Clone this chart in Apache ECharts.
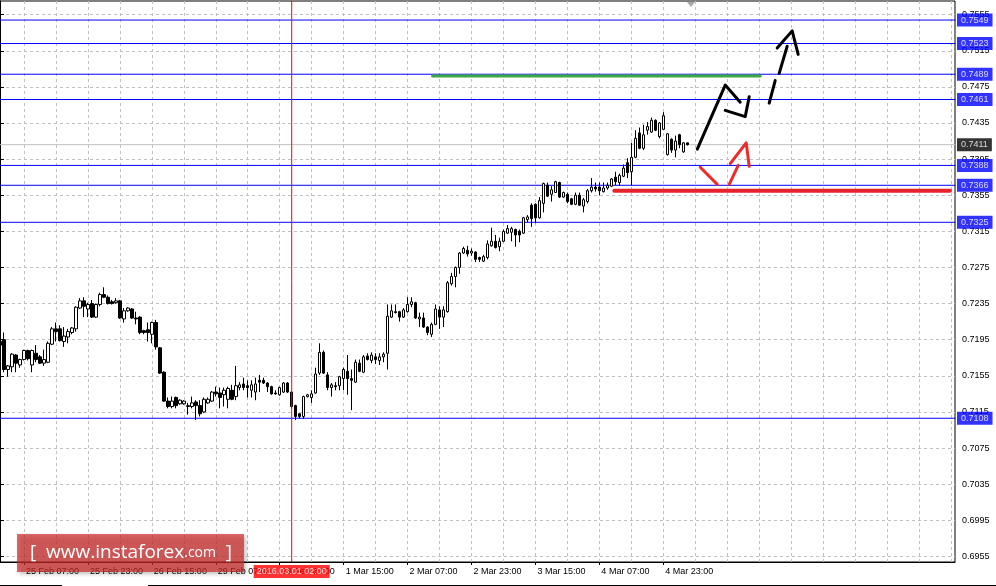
<!DOCTYPE html>
<html><head><meta charset="utf-8">
<script src="https://cdn.jsdelivr.net/npm/echarts@6.0.0/dist/echarts.min.js"></script>
<style>html,body{margin:0;padding:0;background:#fff}#c{width:996px;height:586px}</style>
</head><body><div id="c"></div>
<script>
// ---- data (H1 bars) ----
const tradingDays = ['25 Feb','26 Feb','29 Feb','1 Mar','2 Mar','3 Mar','4 Mar','7 Mar','8 Mar','9 Mar','10 Mar'];
const barOpen = [
.7193,.7195,.7162,.7165,.7178,.7167,.7173,.7183,.7167,.7180,
.7176,.7169,.7170,.7190,.7207,.7207,.7193,.7198,.7203,.7207,
.7230,.7238,.7229,.7235,.7220,.7234,.7245,.7242,.7237,.7236,
.7238,.7218,.7227,.7229,.7219,.7220,.7205,.7206,.7201,.7214,
.7186,.7159,.7127,.7121,.7131,.7124,.7124,.7121,.7121,.7126,
.7122,.7115,.7125,.7127,.7137,.7136,.7134,.7129,.7139,.7132,
.7142,.7146,.7144,.7139,.7137,.7150,.7150,.7147,.7143,.7136,
.7134,.7137,.7147,.7137,.7122,.7113,.7110,.7132,.7131,.7136,
.7158,.7181,.7156,.7142,.7144,.7144,.7152,.7160,.7152,.7148,
.7169,.7159,.7177,.7172,.7176,.7172,.7176,.7180,.7220,.7226,
.7226,.7220,.7226,.7234,.7236,.7218,.7219,.7209,.7201,.7212,
.7228,.7220,.7226,.7257,.7265,.7275,.7291,.7294,.7291,.7292,
.7286,.7282,.7286,.7299,.7304,.7298,.7304,.7313,.7314,.7317,
.7315,.7313,.7328,.7344,.7345,.7330,.7346,.7366,.7356,.7358,
.7369,.7353,.7356,.7351,.7345,.7355,.7343,.7348,.7360,.7364,
.7364,.7359,.7363,.7365,.7375,.7369,.7376,.7391,.7381,.7397,
.7424,.7407,.7427,.7425,.7438,.7420,.7428,.7400,.7417,.7405,
.7422,.7403,.7413];
const barClose = [
.7189,.7162,.7166,.7179,.7169,.7173,.7183,.7174,.7183,.7173,
.7169,.7173,.7191,.7207,.7204,.7194,.7199,.7204,.7208,.7231,
.7238,.7232,.7234,.7220,.7234,.7245,.7242,.7235,.7235,.7238,
.7219,.7227,.7230,.7219,.7218,.7203,.7203,.7203,.7214,.7187,
.7158,.7127,.7121,.7127,.7122,.7128,.7127,.7122,.7125,.7122,
.7113,.7129,.7129,.7137,.7135,.7131,.7139,.7141,.7129,.7144,
.7145,.7142,.7142,.7145,.7146,.7148,.7147,.7143,.7135,.7135,
.7142,.7147,.7137,.7121,.7110,.7110,.7132,.7134,.7135,.7157,
.7181,.7158,.7142,.7145,.7143,.7154,.7162,.7152,.7150,.7170,
.7160,.7176,.7173,.7178,.7173,.7176,.7179,.7221,.7227,.7225,
.7220,.7228,.7234,.7237,.7219,.7220,.7209,.7203,.7212,.7229,
.7220,.7228,.7258,.7265,.7275,.7291,.7296,.7290,.7293,.7284,
.7284,.7287,.7301,.7304,.7297,.7304,.7315,.7318,.7318,.7311,
.7311,.7330,.7331,.7329,.7330,.7349,.7368,.7354,.7361,.7370,
.7353,.7358,.7348,.7345,.7355,.7344,.7350,.7360,.7364,.7362,
.7360,.7363,.7366,.7373,.7370,.7377,.7385,.7380,.7397,.7418,
.7407,.7422,.7431,.7438,.7427,.7435,.7443,.7423,.7405,.7415,
.7411,.7413,.7411];
const barLow = [
.7186,.7159,.7154,.7159,.7159,.7164,.7172,.7172,.7159,.7170,
.7168,.7166,.7169,.7189,.7193,.7193,.7187,.7191,.7201,.7204,
.7229,.7220,.7220,.7219,.7219,.7232,.7241,.7234,.7234,.7235,
.7218,.7214,.7226,.7218,.7212,.7201,.7201,.7193,.7191,.7184,
.7157,.7126,.7119,.7119,.7119,.7123,.7123,.7112,.7119,.7106,
.7110,.7114,.7124,.7126,.7132,.7119,.7121,.7119,.7128,.7128,
.7139,.7139,.7131,.7131,.7128,.7137,.7146,.7137,.7134,.7134,
.7133,.7136,.7136,.7119,.7106,.7108,.7107,.7131,.7125,.7135,
.7156,.7157,.7139,.7132,.7139,.7139,.7139,.7134,.7117,.7147,
.7159,.7158,.7172,.7169,.7168,.7167,.7170,.7162,.7219,.7224,
.7215,.7219,.7225,.7231,.7218,.7209,.7208,.7200,.7198,.7211,
.7207,.7209,.7225,.7255,.7253,.7268,.7290,.7287,.7288,.7281,
.7281,.7281,.7284,.7298,.7296,.7293,.7303,.7312,.7304,.7298,
.7303,.7312,.7325,.7320,.7324,.7329,.7336,.7353,.7348,.7358,
.7352,.7352,.7346,.7344,.7344,.7343,.7336,.7346,.7358,.7359,
.7355,.7358,.7361,.7364,.7366,.7366,.7375,.7374,.7366,.7396,
.7406,.7405,.7422,.7424,.7426,.7418,.7427,.7399,.7402,.7397,
.7407,.7402,.7410];
const barHigh = [
.7195,.7203,.7167,.7180,.7179,.7174,.7184,.7184,.7184,.7189,
.7178,.7184,.7193,.7209,.7214,.7211,.7209,.7207,.7209,.7232,
.7241,.7242,.7236,.7239,.7235,.7247,.7253,.7244,.7239,.7241,
.7239,.7230,.7231,.7230,.7226,.7221,.7206,.7214,.7215,.7217,
.7187,.7160,.7131,.7132,.7132,.7129,.7128,.7125,.7132,.7128,
.7128,.7131,.7131,.7138,.7143,.7142,.7142,.7143,.7145,.7166,
.7148,.7153,.7150,.7150,.7153,.7156,.7153,.7148,.7144,.7139,
.7143,.7148,.7148,.7138,.7123,.7114,.7133,.7135,.7139,.7164,
.7191,.7183,.7159,.7147,.7148,.7155,.7164,.7178,.7162,.7173,
.7173,.7178,.7180,.7181,.7180,.7180,.7181,.7234,.7234,.7234,
.7227,.7230,.7242,.7242,.7237,.7225,.7225,.7210,.7214,.7234,
.7232,.7232,.7260,.7269,.7276,.7292,.7298,.7299,.7296,.7293,
.7287,.7289,.7305,.7319,.7311,.7308,.7317,.7322,.7320,.7318,
.7317,.7331,.7333,.7346,.7346,.7353,.7369,.7369,.7365,.7371,
.7370,.7359,.7358,.7352,.7358,.7358,.7352,.7362,.7374,.7369,
.7369,.7369,.7369,.7374,.7381,.7379,.7389,.7396,.7413,.7427,
.7430,.7433,.7436,.7441,.7439,.7436,.7447,.7424,.7418,.7421,
.7423,.7414,.7413];
const yTicks = [0.6955,0.6995,0.7035,0.7075,0.7115,0.7155,0.7195,0.7235,0.7275,0.7315,0.7355,0.7395,0.7435,0.7475,0.7515,0.7555];
const levels = [0.7549,0.7523,0.7489,0.7461,0.7388,0.7366,0.7325,0.7108];
const currentPrice = 0.7411;
const markedBar = 73;                       // 1 Mar 02:00
const markedTimeLabel = '2016.03.01 02:00';
// drawn annotations: [bar position, price]
const greenLevel = [[108.25,0.7487],[190.25,0.7487]];
const redLevel = [[153.75,0.7360],[237.75,0.7360]];
const blackStrokes = [
  [[174.5,0.7406],[181.5,0.7477],[185.25,0.7458]],
  [[181.5,0.7449],[186.5,0.7442],[187.5,0.7464]],
  [[192.5,0.7457],[194,0.7482]],
  [[195,0.7490],[197,0.7520]],
  [[194.5,0.7518],[198.25,0.7537],[199.75,0.7511]]
];
const redStrokes = [
  [[175.25,0.7386],[179.5,0.7367]],
  [[182.5,0.7367],[184.75,0.7388]],
  [[182.75,0.7390],[186.75,0.7413],[187.5,0.7387]]
];

// ---- categories: hourly bars, weekend skipped ----
const categories = [];
for (const d of tradingDays) for (let h = 0; h < 24; h++) categories.push(d + ' ' + String(h).padStart(2,'0') + ':00');
categories.splice(0, 1);           // first bar: 25 Feb 01:00
categories.length = 240;
const lastIdx = categories.length - 1;
const nBars = barOpen.length;
const isLabel = (i) => i >= 6 && (i - 6) % 16 === 0 && i < nBars;
const yMin = 0.69488, yMax = 0.75701;

const candles = barOpen.map((o, i) => [o, barClose[i], barLow[i], barHigh[i]]);
const font = 'Liberation Sans, Arial, sans-serif';

const series = [{
  type: 'candlestick', xAxisIndex: 0, yAxisIndex: 0, data: candles, barWidth: 3, z: 3,
  itemStyle: {color: '#fff', color0: '#000', borderColor: '#000', borderColor0: '#000', borderColorDoji: '#000', borderWidth: 1}
}];
const addStroke = (pts, color, width, z) => series.push({
  type: 'line', xAxisIndex: 1, yAxisIndex: 0, data: pts, symbol: 'none', silent: true, z: z,
  lineStyle: {color: color, width: width, cap: 'round', join: 'round'}
});
// horizontal levels and current price line
levels.forEach(v => addStroke([[0, v], [lastIdx, v]], '#0000ff', 1, 2));
addStroke([[0, currentPrice], [lastIdx, currentPrice]], '#c0c0c0', 1, 2);
// vertical time marker
addStroke([[markedBar, yMin], [markedBar, yMax]], '#ff0000', 1, 4);
// drawings
addStroke(greenLevel, '#3aa845', 3, 5);
addStroke(redLevel, '#e8222a', 4, 5);
blackStrokes.forEach(s => addStroke(s, '#000', 3, 5));
redStrokes.forEach(s => addStroke(s, '#ee2a2a', 3, 5));

// price boxes on the right and time box at the bottom
const boxStyle = {fontFamily: font, fontSize: 9, lineHeight: 10, color: '#fff', padding: [2, 4, 1, 4]};
series.push({
  type: 'scatter', xAxisIndex: 1, yAxisIndex: 0, symbolSize: 0, silent: true, z: 10, clip: false,
  data: levels.map(v => ({value: [lastIdx, v], label: Object.assign({show: true, position: 'right', distance: 2, formatter: v.toFixed(4), backgroundColor: '#0000ff'}, boxStyle)}))
    .concat([
      {value: [lastIdx, currentPrice], label: Object.assign({show: true, position: 'right', distance: 2, formatter: currentPrice.toFixed(4), backgroundColor: '#000'}, boxStyle)},
      {value: [markedBar, yMin], label: Object.assign({show: true, position: 'bottom', distance: 3, formatter: markedTimeLabel, backgroundColor: '#ff0000'}, boxStyle, {padding: [2, 3, 1, 3]})}
    ])
});

const chart = echarts.init(document.getElementById('c'), null, {renderer: 'canvas'});
chart.setOption({
  animation: false,
  backgroundColor: '#fff',
  grid: {left: -1, top: 1, width: 956, height: 561, show: true, borderColor: '#000', borderWidth: 1, containLabel: false},
  xAxis: [{
    type: 'category', data: categories, boundaryGap: false,
    axisLine: {show: true, lineStyle: {color: '#000'}},
    axisTick: {show: true, length: 3, interval: (i) => isLabel(i), lineStyle: {color: '#000'}},
    axisLabel: {interval: (i) => isLabel(i), align: 'left', margin: 5, padding: [0, 0, 0, 2], fontFamily: font, fontSize: 9, color: '#000'},
    splitLine: {show: true, interval: (i) => i >= 6 && (i - 6) % 8 === 0, lineStyle: {color: '#c0c0c0', type: [3, 3]}}
  }, {
    type: 'value', min: 0, max: lastIdx, show: false
  }],
  yAxis: {
    type: 'value', position: 'right', min: yMin, max: yMax,
    axisLine: {show: true, lineStyle: {color: '#000'}},
    axisTick: {show: true, length: 4, customValues: yTicks, lineStyle: {color: '#000'}},
    axisLabel: {customValues: yTicks, formatter: v => v.toFixed(4), margin: 7, fontFamily: font, fontSize: 9, color: '#000'},
    splitLine: {show: true, lineStyle: {color: '#c0c0c0', type: [3, 3]}}
  },
  series: series,
  graphic: [
    {type: 'rect', z: 100, shape: {x: 17, y: 534, width: 227, height: 38},
     style: {fill: 'rgba(205,40,40,0.7)', shadowBlur: 4, shadowOffsetX: 2, shadowOffsetY: 2, shadowColor: 'rgba(0,0,0,0.35)'}},
    {type: 'text', z: 101, x: 131, y: 553,
     style: {text: '{a|[  www.instaforex}{b|.com}{a|  ]}', align: 'center', verticalAlign: 'middle', fill: '#fff',
       rich: {a: {fontSize: 19, fontFamily: 'Open Sans, Liberation Sans, sans-serif', fill: '#fff'},
              b: {fontSize: 14, fontFamily: 'Open Sans, Liberation Sans, sans-serif', fill: '#fff'}}}},
    {type: 'polygon', z: 50, shape: {points: [[687, 2], [695, 2], [691, 7]]}, style: {fill: '#a8a8a8'}},
    {type: 'line', shape: {x1: 0, y1: 585.5, x2: 62, y2: 585.5}, style: {stroke: '#000', lineWidth: 1}},
    {type: 'line', shape: {x1: 148, y1: 585.5, x2: 996, y2: 585.5}, style: {stroke: '#000', lineWidth: 1}}
  ]
});
</script></body></html>
